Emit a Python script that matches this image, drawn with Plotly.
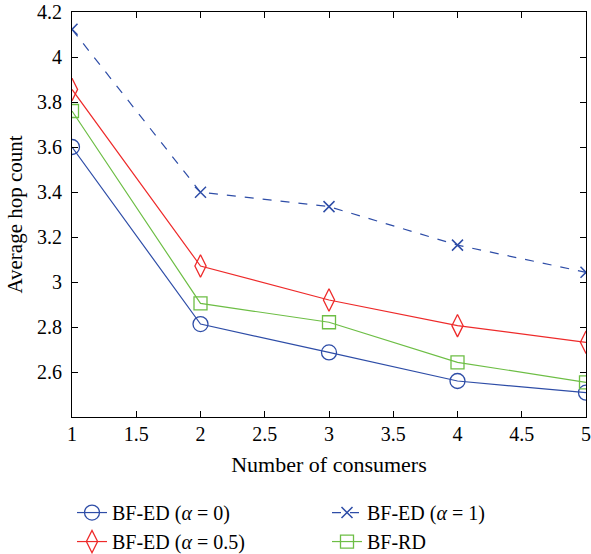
import plotly.graph_objects as go

consumers = [1, 2, 3, 4, 5]
bf_ed_a0 = [3.60, 2.813, 2.687, 2.56, 2.508]
bf_ed_a1 = [4.123, 3.399, 3.335, 3.164, 3.043]
bf_ed_a05 = [3.856, 3.071, 2.92, 2.806, 2.732]
bf_rd = [3.76, 2.905, 2.821, 2.643, 2.554]

FONT = "Liberation Serif"
BLUE = "#2E4DA7"
RED = "#EE2A2A"
GREEN = "#6DBE45"

fig = go.Figure()
fig.add_trace(go.Scatter(x=consumers, y=bf_ed_a0, name="BF-ED (<i>α</i> = 0)", mode="lines+markers",
                         line=dict(color=BLUE, width=1.2),
                         marker=dict(symbol="circle-open", size=15, color=BLUE, line=dict(width=1.3))))
fig.add_trace(go.Scatter(x=consumers, y=bf_ed_a1, name="BF-ED (<i>α</i> = 1)", mode="lines+markers",
                         line=dict(color=BLUE, width=1.2, dash="dash"),
                         marker=dict(symbol="x-thin-open", size=11, color=BLUE, line=dict(width=1.5, color=BLUE))))
fig.add_trace(go.Scatter(x=consumers, y=bf_ed_a05, name="BF-ED (<i>α</i> = 0.5)", mode="lines+markers",
                         line=dict(color=RED, width=1.2),
                         marker=dict(symbol="diamond-tall-open", size=16, color=RED, line=dict(width=1.3))))
fig.add_trace(go.Scatter(x=consumers, y=bf_rd, name="BF-RD", mode="lines+markers",
                         line=dict(color=GREEN, width=1.2),
                         marker=dict(symbol="square-open", size=13, color=GREEN, line=dict(width=1.3))))

axis_common = dict(showline=True, linecolor="black", linewidth=1.2, mirror="ticks",
                   ticks="inside", ticklen=6, tickcolor="black", showgrid=False, zeroline=False,
                   automargin=False, ticklabeloverflow="allow",
                   tickfont=dict(family=FONT, size=20, color="black"))

fig.update_xaxes(range=[1, 5], tickvals=[1, 1.5, 2, 2.5, 3, 3.5, 4, 4.5, 5],
                 ticktext=["1", "1.5", "2", "2.5", "3", "3.5", "4", "4.5", "5"],
                 ticklabelstandoff=-1,
                 title=dict(text="Number of consumers", font=dict(family=FONT, size=22, color="black"), standoff=12),
                 **axis_common)
fig.update_yaxes(range=[2.4, 4.2], tickvals=[2.6, 2.8, 3.0, 3.2, 3.4, 3.6, 3.8, 4.0, 4.2],
                 ticktext=["2.6", "2.8", "3", "3.2", "3.4", "3.6", "3.8", "4", "4.2"],
                 ticklabelstandoff=5,
                 title=dict(text="Average hop count", font=dict(family=FONT, size=21, color="black"), standoff=8),
                 **axis_common)

fig.update_layout(
    width=591, height=554,
    margin=dict(l=72, r=5, t=12, b=137, autoexpand=False),
    plot_bgcolor="white", paper_bgcolor="white",
    font=dict(family=FONT, size=20, color="black"),
    legend=dict(orientation="h", x=0.0, xanchor="left", y=0.110, yanchor="top", yref="container",
                entrywidth=210, entrywidthmode="pixels",
                font=dict(family=FONT, size=20, color="black"),
                tracegroupgap=0, bgcolor="rgba(0,0,0,0)"),
)

fig.write_html("out.html", config={"displayModeBar": False},
               post_script="document.body.style.margin='0';")
